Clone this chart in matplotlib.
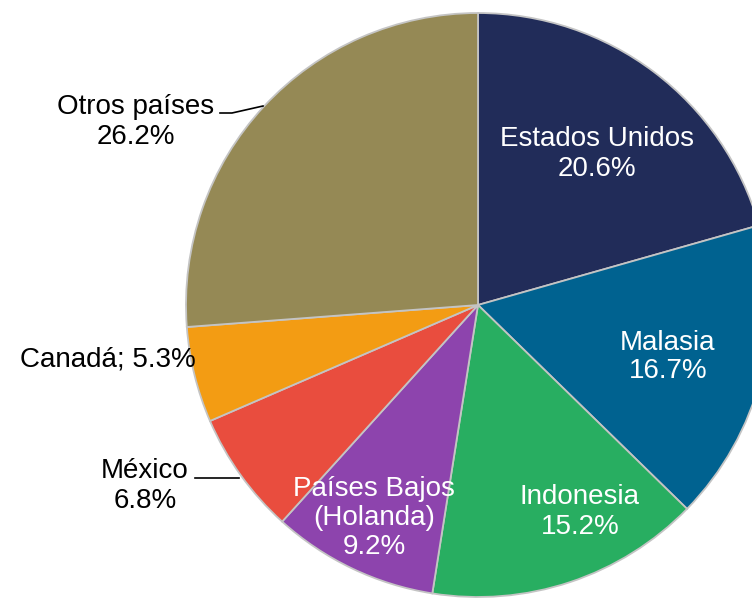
import matplotlib
matplotlib.use("Agg")
import matplotlib.pyplot as plt

plt.rcParams['font.family'] = ['Liberation Sans', 'DejaVu Sans']

# data, clockwise from 12 o'clock
paises = ['Estados Unidos', 'Malasia', 'Indonesia', 'Países Bajos\n(Holanda)',
          'México', 'Canadá', 'Otros países']
porcentajes = [20.6, 16.7, 15.2, 9.2, 6.8, 5.3, 26.2]
colores = ['#212C59', '#006290', '#28AE61', '#8D44AD', '#E94D3E', '#F39C13', '#958955']

# figure is 752x599 px, axes use pixel units (y measured from the bottom)
W, H = 752, 599
fig = plt.figure(figsize=(W / 100, H / 100), dpi=100)
ax = fig.add_axes([0, 0, 1, 1])

wedges, _ = ax.pie(porcentajes, colors=colores, startangle=90, counterclock=False,
                   center=(478, H - 305), radius=292,
                   wedgeprops=dict(edgecolor='#C4C4C4', linewidth=1.3))
ax.set_xlim(0, W)
ax.set_ylim(0, H)
ax.set_aspect('equal')
ax.axis('off')

# label placement (pixels from top-left), colour
etiquetas = [
    ((597, 154), 'white', 'center'),
    ((668, 357), 'white', 'center'),
    ((580, 512), 'white', 'center'),
    ((374, 518), 'white', 'center'),
    ((145, 486), 'black', 'center'),
    ((20, 360), 'black', 'left'),
    ((136, 122), 'black', 'center'),
]

for nombre, pct, (pos, col, ha) in zip(paises, porcentajes, etiquetas):
    if nombre == 'Canadá':
        txt = f'{nombre}; {pct:.1f}%'
    else:
        txt = f'{nombre}\n{pct:.1f}%'
    ax.text(pos[0], H - pos[1], txt, color=col, fontsize=20, ha=ha, va='center',
            multialignment='center', linespacing=1.15, zorder=5)

# leader lines
ax.plot([220, 232, 263], [H - 113, H - 113, H - 106], color='black', lw=1.2, zorder=4)
ax.plot([195, 239], [H - 478, H - 478], color='black', lw=1.2, zorder=4)

fig.savefig('out.png', dpi=100)
